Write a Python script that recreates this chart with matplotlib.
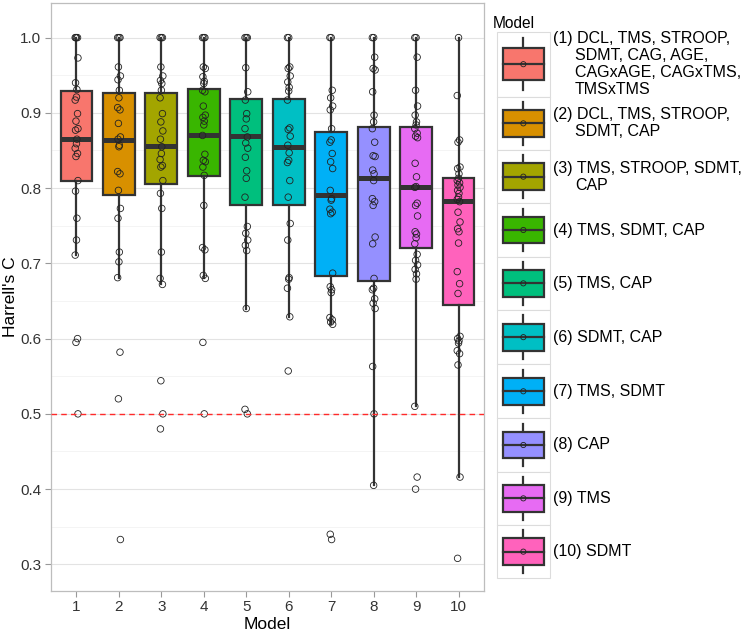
import matplotlib
matplotlib.use("Agg")
import matplotlib.pyplot as plt
from matplotlib.patches import Rectangle
import numpy as np

plt.rcParams['font.family'] = ['Liberation Sans', 'DejaVu Sans']

models = [1, 2, 3, 4, 5, 6, 7, 8, 9, 10]
colors = ["#F8766D", "#D89000", "#A3A500", "#39B600", "#00BF7D",
          "#00BFC4", "#00B0F6", "#9590FF", "#E76BF3", "#FF62BC"]

legend_labels = [
    "(1) DCL, TMS, STROOP,\nSDMT, CAG, AGE,\nCAGxAGE, CAGxTMS,\nTMSxTMS",
    "(2) DCL, TMS, STROOP,\nSDMT, CAP",
    "(3) TMS, STROOP, SDMT,\nCAP",
    "(4) TMS, SDMT, CAP",
    "(5) TMS, CAP",
    "(6) SDMT, CAP",
    "(7) TMS, SDMT",
    "(8) CAP",
    "(9) TMS",
    "(10) SDMT",
]

# box statistics
q1 = [0.809, 0.791, 0.805, 0.816, 0.778, 0.778, 0.683, 0.676, 0.721, 0.645]
med = [0.865, 0.864, 0.856, 0.871, 0.869, 0.854, 0.791, 0.814, 0.801, 0.783]
q3 = [0.929, 0.927, 0.927, 0.932, 0.919, 0.919, 0.874, 0.881, 0.881, 0.814]
whislo = [0.711, 0.681, 0.672, 0.680, 0.640, 0.629, 0.619, 0.405, 0.510, 0.416]
whishi = [1.0, 1.0, 1.0, 1.0, 1.0, 1.0, 1.0, 1.0, 1.0, 1.0]

# individual Harrell's C values per model
m1 = [1.0, 1.0, 1.0, 1.0, 0.973, 0.940, 0.931, 0.921, 0.917, 0.899, 0.889, 0.879, 0.877,
      0.865, 0.859, 0.853, 0.846, 0.842, 0.810, 0.796, 0.760, 0.731, 0.711, 0.600, 0.595, 0.500]
m2 = [1.0, 1.0, 1.0, 0.961, 0.949, 0.944, 0.930, 0.920, 0.907, 0.904, 0.886, 0.868, 0.865,
      0.857, 0.855, 0.822, 0.819, 0.797, 0.773, 0.760, 0.715, 0.702, 0.681, 0.582, 0.520, 0.333]
m3 = [1.0, 1.0, 1.0, 0.961, 0.949, 0.943, 0.939, 0.930, 0.920, 0.899, 0.888, 0.876, 0.865,
      0.855, 0.846, 0.838, 0.830, 0.828, 0.810, 0.793, 0.773, 0.715, 0.680, 0.672, 0.544,
      0.500, 0.480]
m4 = [1.0, 1.0, 1.0, 0.961, 0.959, 0.948, 0.942, 0.939, 0.930, 0.928, 0.909, 0.897, 0.894,
      0.889, 0.884, 0.870, 0.845, 0.837, 0.835, 0.828, 0.817, 0.777, 0.721, 0.718, 0.684,
      0.680, 0.595, 0.500]
m5 = [1.0, 1.0, 1.0, 0.960, 0.928, 0.917, 0.899, 0.892, 0.879, 0.868, 0.860, 0.853, 0.841,
      0.823, 0.813, 0.788, 0.749, 0.740, 0.731, 0.724, 0.717, 0.640, 0.506, 0.500]
m6 = [1.0, 1.0, 0.961, 0.959, 0.949, 0.941, 0.934, 0.929, 0.917, 0.880, 0.878, 0.869, 0.857,
      0.847, 0.837, 0.834, 0.810, 0.788, 0.753, 0.731, 0.681, 0.679, 0.667, 0.629, 0.557]
m7 = [1.0, 1.0, 0.930, 0.920, 0.909, 0.904, 0.879, 0.864, 0.861, 0.846, 0.835, 0.826, 0.797,
      0.786, 0.784, 0.772, 0.768, 0.766, 0.687, 0.669, 0.665, 0.661, 0.628, 0.625, 0.622,
      0.619, 0.340, 0.333]
m8 = [1.0, 1.0, 0.974, 0.959, 0.957, 0.928, 0.897, 0.888, 0.879, 0.861, 0.843, 0.842, 0.824,
      0.819, 0.810, 0.786, 0.782, 0.777, 0.735, 0.726, 0.680, 0.667, 0.665, 0.653, 0.647,
      0.640, 0.563, 0.500, 0.405]
m9 = [1.0, 1.0, 0.974, 0.930, 0.909, 0.897, 0.888, 0.884, 0.879, 0.873, 0.869, 0.867, 0.833,
      0.815, 0.802, 0.801, 0.780, 0.777, 0.763, 0.742, 0.739, 0.734, 0.726, 0.712, 0.704,
      0.698, 0.692, 0.686, 0.679, 0.510, 0.416, 0.400]
m10 = [1.0, 0.923, 0.864, 0.861, 0.828, 0.826, 0.819, 0.813, 0.810, 0.807, 0.804, 0.801,
       0.797, 0.793, 0.788, 0.785, 0.782, 0.768, 0.755, 0.746, 0.742, 0.727, 0.689, 0.673,
       0.660, 0.603, 0.600, 0.597, 0.594, 0.584, 0.580, 0.565, 0.416, 0.308]
values = [m1, m2, m3, m4, m5, m6, m7, m8, m9, m10]

reference_line = 0.5
y_ticks = [0.3, 0.4, 0.5, 0.6, 0.7, 0.8, 0.9, 1.0]

W, H = 750, 634
fig = plt.figure(figsize=(W / 100, H / 100), dpi=100)
ax_left, ax_right, ax_top, ax_bottom = 51, 484, 3.3, 590.7
ax = fig.add_axes([ax_left / W, (H - ax_bottom) / H, (ax_right - ax_left) / W,
                   (ax_bottom - ax_top) / H])

dark = "#333333"
stats = []
for i in range(len(models)):
    stats.append(dict(q1=q1[i], med=med[i], q3=q3[i], whislo=whislo[i], whishi=whishi[i]))

bp = ax.bxp(stats, positions=models, widths=0.75, patch_artist=True, showcaps=False,
            showfliers=False,
            boxprops=dict(edgecolor=dark, linewidth=1.6),
            whiskerprops=dict(color=dark, linewidth=1.6),
            medianprops=dict(color=dark, linewidth=3.6, solid_capstyle='butt'),
            zorder=3)
for patch, c in zip(bp['boxes'], colors):
    patch.set_facecolor(c)

offsets = [0.0, -0.03, 0.025, -0.012, 0.035, -0.022, 0.01]
for m, vals in zip(models, values):
    xs = [m + offsets[j % len(offsets)] for j in range(len(vals))]
    ax.scatter(xs, vals, s=22, facecolors='none', edgecolors='#222222',
               linewidths=0.6, zorder=5)

ax.axhline(reference_line, color='#ff2a2a', linestyle=(0, (4, 3)), linewidth=1.0, zorder=6)

ax.set_xlim(0.4, 10.6)
ax.set_ylim(0.265, 1.0456)
ax.set_xticks(models)
ax.set_xticklabels([str(m) for m in models])
ax.set_yticks(y_ticks)
ax.set_yticklabels([f"{t:.1f}" for t in y_ticks])
ax.set_yticks(np.arange(0.35, 1.0, 0.1), minor=True)
ax.grid(True, which='major', axis='y', color='#e3e3e3', linewidth=0.8, zorder=0)
ax.grid(True, which='minor', axis='y', color='#f2f2f2', linewidth=0.6, zorder=0)
ax.set_axisbelow(True)
ax.tick_params(axis='both', which='major', length=4, width=0.8, color='#999999',
               labelsize=11, labelcolor='#333333', pad=3)
ax.tick_params(axis='both', which='minor', length=0)
for s in ax.spines.values():
    s.set_color('#bdbdbd')
    s.set_linewidth(0.9)
ax.set_xlabel("Model", fontsize=12.5, labelpad=2)
ax.set_ylabel("Harrell's C", fontsize=12.5, va='center')
ax.yaxis.set_label_coords(-(ax_left - 10.5) / (ax_right - ax_left), 0.5)

# legend drawn in pixel coordinates
lax = fig.add_axes([0, 0, 1, 1], facecolor='none')
lax.set_xlim(0, W)
lax.set_ylim(H, 0)
lax.axis('off')
lax.text(493, 23.5, "Model", fontsize=11.2, ha='left', va='center', color='black')
bounds = [31.7, 96.7, 150, 203.3, 256.7, 310, 364.3, 418.3, 471.7, 525, 578.3]
kx0, kx1 = 496.7, 550
kcx = (kx0 + kx1) / 2
for i, (c, lab) in enumerate(zip(colors, legend_labels)):
    y0, y1 = bounds[i], bounds[i + 1]
    h = y1 - y0
    lax.add_patch(Rectangle((kx0, y0), kx1 - kx0, h, facecolor='white',
                            edgecolor='#dcdcdc', linewidth=0.8))
    lax.plot([kcx, kcx], [y0 + 0.1 * h, y1 - 0.1 * h], color=dark, lw=1.6, zorder=3)
    lax.add_patch(Rectangle((kcx - 20.3, y0 + 0.25 * h), 40.6, 0.5 * h, facecolor=c,
                            edgecolor=dark, linewidth=1.6, zorder=4))
    lax.plot([kcx - 20.3, kcx + 20.3], [y0 + 0.5 * h] * 2, color=dark, lw=1.6, zorder=5)
    lax.scatter([kcx], [y0 + 0.5 * h], s=14, facecolors='none', edgecolors='#222222',
                linewidths=0.6, zorder=6)
    lines = lab.split("\n")
    n = len(lines)
    yc = (y0 + y1) / 2
    for j, ln in enumerate(lines):
        yy = yc + (j - (n - 1) / 2) * 17
        xx = 552.7 if j == 0 else 575
        lax.text(xx, yy, ln, fontsize=11.5, ha='left', va='center', color='black')

fig.savefig("out.png", dpi=100)
